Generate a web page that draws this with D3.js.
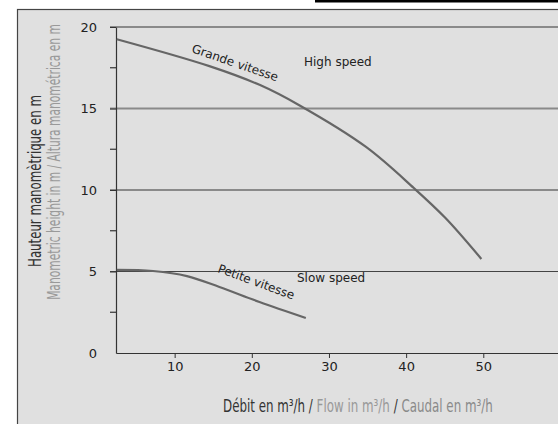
<!DOCTYPE html>
<html>
<head>
<meta charset="utf-8">
<script src="https://cdn.jsdelivr.net/npm/d3@7"></script>
<style>
  html, body { margin: 0; padding: 0; background: #fff; }
  svg { display: block; }
</style>
</head>
<body>
<div id="chart"></div>
<script>
// chart data
const highFlow = [2.5, 14.5, 21.0, 26.15, 34.8, 41.0, 45.1, 49.75];
const highHead = [19.25, 17.6, 16.45, 15.2, 12.64, 10.12, 8.28, 5.77];
const slowFlow = [2.5, 7.2, 11.6, 15.8, 21.0, 27.0];
const slowHead = [5.1, 5.03, 4.72, 4.05, 3.13, 2.15];
const yTicks = [0, 5, 10, 15, 20];
const yMinor = [2.5, 7.5, 12.5, 17.5];
const xTicks = [10, 20, 30, 40, 50];

const width = 558;
const height = 424;

const svg = d3.select('#chart').append('svg')
    .attr('width', width)
    .attr('height', height);

// black strip top right + grey frame
svg.append('rect')
    .attr('x', 315).attr('y', 0)
    .attr('width', width - 315).attr('height', 2.5)
    .attr('fill', '#000');

svg.append('rect')
    .attr('x', 17.5).attr('y', 9.5)
    .attr('width', 700).attr('height', 600)
    .attr('fill', '#e0e0e0')
    .attr('stroke', '#444')
    .attr('stroke-width', 1.2);

const x = d3.scaleLinear().domain([2.4, 60.2]).range([116, 562]);
const y = d3.scaleLinear().domain([0, 20]).range([353, 27]);

// horizontal grid lines
svg.append('g').selectAll('line')
    .data(yTicks.filter(d => d > 0))
    .enter()
    .append('line')
    .attr('x1', 110).attr('x2', width)
    .attr('y1', d => y(d)).attr('y2', d => y(d))
    .attr('stroke', d => d === 5 ? '#444' : '#8a8a8a')
    .attr('stroke-width', d => d === 5 ? 1.2 : 1.8);

// y axis
const yAxis = svg.append('g')
    .attr('transform', 'translate(116,0)')
    .call(d3.axisLeft(y).tickValues(yTicks).tickSizeInner(6).tickSizeOuter(0).tickPadding(13));
yAxis.select('.domain').attr('stroke', '#333').attr('stroke-width', 1.2);
yAxis.selectAll('.tick line').attr('stroke', '#333').filter(d => d === 0).remove();
yAxis.selectAll('.tick text')
    .attr('font-family', '"DejaVu Sans", sans-serif')
    .attr('font-size', 13)
    .attr('fill', '#222');

// minor ticks
svg.append('g').selectAll('line')
    .data(yMinor)
    .enter()
    .append('line')
    .attr('x1', 110).attr('x2', 116)
    .attr('y1', d => y(d)).attr('y2', d => y(d))
    .attr('stroke', '#333')
    .attr('stroke-width', 1.2);

// x axis
const xAxis = svg.append('g')
    .attr('transform', `translate(0,${y(0)})`)
    .call(d3.axisBottom(x).tickValues(xTicks).tickSizeInner(5).tickSizeOuter(0).tickPadding(4));
xAxis.select('.domain').attr('stroke', '#333').attr('stroke-width', 1.2);
xAxis.selectAll('.tick line').attr('stroke', '#333');
xAxis.selectAll('.tick text')
    .attr('font-family', '"DejaVu Sans", sans-serif')
    .attr('font-size', 13)
    .attr('fill', '#222');

// curves
const line = d3.line()
    .x(d => x(d[0]))
    .y(d => y(d[1]))
    .curve(d3.curveCatmullRom.alpha(0.5));

svg.append('path')
    .datum(d3.zip(highFlow, highHead))
    .attr('d', line)
    .attr('fill', 'none')
    .attr('stroke', '#666')
    .attr('stroke-width', 2.2);

svg.append('path')
    .datum(d3.zip(slowFlow, slowHead))
    .attr('d', line)
    .attr('fill', 'none')
    .attr('stroke', '#666')
    .attr('stroke-width', 2.2);

// curve labels
const labelFont = '"DejaVu Sans", sans-serif';
svg.append('text')
    .attr('transform', 'translate(191,52) rotate(19)')
    .attr('font-family', labelFont).attr('font-size', 12).attr('fill', '#222')
    .text('Grande vitesse');
svg.append('text')
    .attr('transform', 'translate(217,272) rotate(20)')
    .attr('font-family', labelFont).attr('font-size', 12).attr('fill', '#222')
    .text('Petite vitesse');
svg.append('text')
    .attr('x', 304).attr('y', 66)
    .attr('font-family', labelFont).attr('font-size', 12).attr('fill', '#222')
    .text('High speed');
svg.append('text')
    .attr('x', 297).attr('y', 282)
    .attr('font-family', labelFont).attr('font-size', 12).attr('fill', '#222')
    .text('Slow speed');

// axis titles: condensed font squeezed horizontally to the reference width
const titleFont = '"DejaVu Sans Condensed", "Liberation Sans Narrow", sans-serif';

function squeeze(sel, target, base) {
    const w = sel.node().getComputedTextLength();
    sel.attr('transform', base + ` scale(${target / w},1)`);
}

const yt1 = svg.append('text')
    .attr('text-anchor', 'middle')
    .attr('font-family', titleFont).attr('font-size', 17).attr('fill', '#333')
    .text('Hauteur manomètrique en m');
squeeze(yt1, 172, 'translate(41,181) rotate(-90)');

const yt2 = svg.append('text')
    .attr('text-anchor', 'middle')
    .attr('font-family', titleFont).attr('font-size', 17).attr('fill', '#999')
    .text('Manometric height in m / Altura manométrica en m');
squeeze(yt2, 276, 'translate(60,162) rotate(-90)');

const xt = svg.append('text')
    .attr('font-family', titleFont).attr('font-size', 17);
xt.append('tspan').attr('fill', '#333').text('Débit en m³/h / ');
xt.append('tspan').attr('fill', '#999').text('Flow in m³/h ');
xt.append('tspan').attr('fill', '#333').text('/ ');
xt.append('tspan').attr('fill', '#8a8a8a').text('Caudal en m³/h');
squeeze(xt, 270, 'translate(223,412)');
</script>
</body>
</html>
